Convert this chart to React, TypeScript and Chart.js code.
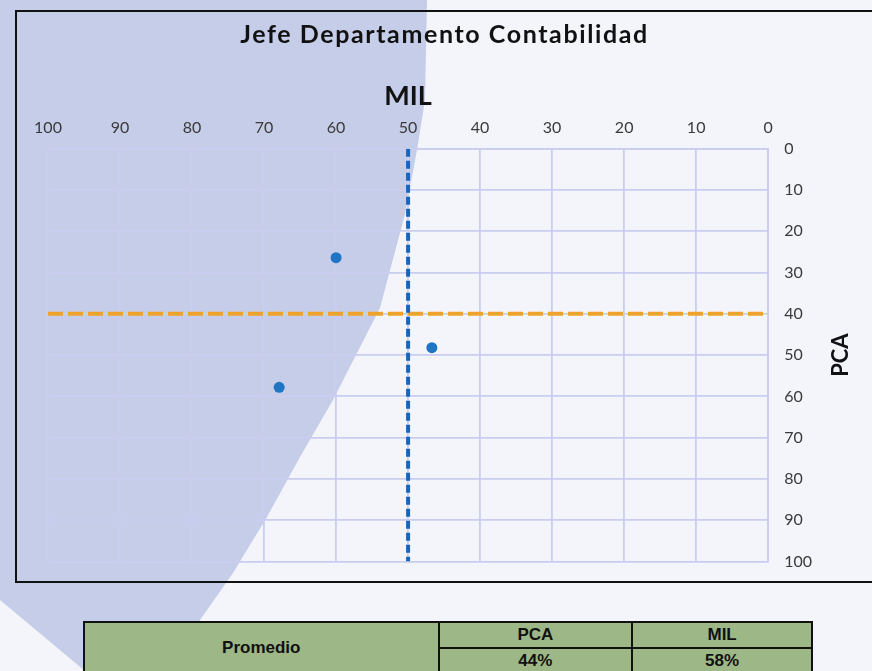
import React, { useEffect, useRef } from 'react';
import { Chart, registerables } from 'chart.js';

Chart.register(...registerables);

const CHART_TITLE = 'Jefe Departamento Contabilidad';
const X_TITLE = 'MIL';
const Y_TITLE = 'PCA';
const MIL_VALUES = [60, 46.7, 67.9];
const PCA_VALUES = [26.4, 48.2, 57.8];
const MIL_REF_X = [50, 50];
const MIL_REF_Y = [0, 100];
const PCA_REF_X = [100, 0];
const PCA_REF_Y = [40, 40];
const AXIS_MIN = 0;
const AXIS_MAX = 100;
const AXIS_STEP = 10;
const TABLE_LABEL = 'Promedio';
const TABLE_HEADERS = ['PCA', 'MIL'];
const TABLE_VALUES = ['44%', '58%'];

const FONT = "Lato, 'Open Sans', sans-serif";
const Y_TITLE_SIZE = 22;
const Y_TITLE_PAD_TOP = 17.6;
const Y_TITLE_PAD_BOTTOM = 0;

const SWOOSH =
  'polygon(0px 0px, 427px 0px, 425px 100px, 417px 150px, 405px 214px, 380px 308px, 333px 400px, 300px 457px, 267px 517px, 233px 573px, 200px 620px, 170px 671px, 85px 671px, 0px 600px)';

const customText = {
  id: 'customText',
  afterDraw(chart: any) {
    const ctx = chart.ctx;
    ctx.save();
    ctx.font = `bold 25px ${FONT}`;
    try {
      (ctx as any).letterSpacing = '1.6px';
    } catch (e) {}
    ctx.fillStyle = '#111111';
    ctx.textAlign = 'center';
    ctx.textBaseline = 'alphabetic';
    ctx.fillText(CHART_TITLE, chart.width / 2, 31);
    ctx.restore();

    const s = chart.scales.y;
    const cx = s.right - Y_TITLE_PAD_TOP - (Y_TITLE_SIZE * 1.2) / 2;
    const cy = (chart.chartArea.top + chart.chartArea.bottom) / 2;
    ctx.save();
    ctx.translate(cx, cy);
    ctx.rotate(-Math.PI / 2);
    ctx.font = `bold ${Y_TITLE_SIZE}px ${FONT}`;
    ctx.fillStyle = '#111111';
    ctx.textAlign = 'center';
    ctx.textBaseline = 'middle';
    ctx.fillText(Y_TITLE, 0, 0);
    ctx.restore();
  },
};

export default function App() {
  const canvasRef = useRef<HTMLCanvasElement | null>(null);

  useEffect(() => {
    if (!canvasRef.current) return;
    const gridColor = '#cacdf0';
    const chart = new Chart(canvasRef.current, {
      type: 'scatter',
      data: {
        datasets: [
          {
            type: 'scatter',
            label: 'Evaluaciones',
            data: MIL_VALUES.map((x, i) => ({ x, y: PCA_VALUES[i] })),
            backgroundColor: '#1f74c4',
            borderWidth: 0,
            pointRadius: 5.5,
            order: 0,
          } as any,
          {
            type: 'line',
            label: 'MIL ref',
            data: MIL_REF_X.map((x, i) => ({ x, y: MIL_REF_Y[i] })),
            borderColor: '#1766bd',
            borderWidth: 4,
            borderDash: [8, 4],
            pointRadius: 0,
            fill: false,
            order: 1,
          } as any,
          {
            type: 'line',
            label: 'PCA ref',
            data: PCA_REF_X.map((x, i) => ({ x, y: PCA_REF_Y[i] })),
            borderColor: '#f0a22c',
            borderWidth: 4,
            borderDash: [15, 5],
            pointRadius: 0,
            fill: false,
            order: 2,
          } as any,
        ],
      },
      options: {
        animation: false,
        responsive: true,
        maintainAspectRatio: false,
        layout: { padding: { left: 31, right: 0, top: 35.8, bottom: 10 } },
        plugins: {
          legend: { display: false },
          tooltip: { enabled: false },
          title: { display: false },
        },
        scales: {
          x: {
            type: 'linear',
            position: 'top',
            reverse: true,
            min: AXIS_MIN,
            max: AXIS_MAX,
            ticks: {
              stepSize: AXIS_STEP,
              color: '#3a3a3a',
              font: { family: FONT, size: 16 },
              padding: 11,
              maxRotation: 0,
            },
            grid: { color: gridColor, lineWidth: 1.8, drawTicks: false },
            border: { display: true, color: gridColor, width: 1.8 },
            title: {
              display: true,
              text: X_TITLE,
              color: '#111111',
              font: { family: FONT, size: 27, weight: 'bold', lineHeight: 0.8 },
              padding: { top: 37.8, bottom: 0.4 },
            },
          },
          y: {
            type: 'linear',
            position: 'right',
            reverse: true,
            min: AXIS_MIN,
            max: AXIS_MAX,
            ticks: {
              stepSize: AXIS_STEP,
              color: '#3a3a3a',
              font: { family: FONT, size: 16 },
              padding: 16,
            },
            grid: { color: gridColor, lineWidth: 1.8, drawTicks: false },
            border: { display: true, color: gridColor, width: 1.8 },
            title: {
              display: true,
              text: Y_TITLE,
              color: 'rgba(0,0,0,0)',
              font: { family: FONT, size: Y_TITLE_SIZE, weight: 'bold' },
              padding: { top: Y_TITLE_PAD_TOP, bottom: Y_TITLE_PAD_BOTTOM },
            },
          },
        },
      } as any,
      plugins: [customText],
    });
    return () => chart.destroy();
  }, []);

  const cellBase: React.CSSProperties = {
    border: '2px solid #111',
    background: '#9db886',
    textAlign: 'center',
    verticalAlign: 'middle',
    padding: 0,
    height: 24,
    color: '#111',
  };

  return (
    <div
      style={{
        position: 'fixed',
        left: 0,
        top: 0,
        width: 872,
        height: 671,
        overflow: 'hidden',
        background: '#f4f5fb',
      }}
    >
      <div
        style={{
          position: 'absolute',
          left: 0,
          top: 0,
          width: 872,
          height: 671,
          background: '#c6cde9',
          clipPath: SWOOSH,
        }}
      />
      <div
        style={{
          position: 'absolute',
          left: 15,
          top: 10,
          width: 870,
          height: 573,
          border: '2px solid #111',
          boxSizing: 'border-box',
        }}
      />
      <div style={{ position: 'absolute', left: 17, top: 12, width: 855, height: 575 }}>
        <canvas ref={canvasRef} />
      </div>
      <table
        style={{
          position: 'absolute',
          left: 83,
          top: 621,
          width: 730,
          borderCollapse: 'collapse',
          fontFamily: "'Liberation Sans Narrow', 'Liberation Sans', Arial, sans-serif",
          fontWeight: 'bold',
          fontSize: 17,
        }}
      >
        <tbody>
          <tr>
            <td rowSpan={2} style={{ ...cellBase, width: 353 }}>
              {TABLE_LABEL}
            </td>
            {TABLE_HEADERS.map((h) => (
              <td key={h} style={{ ...cellBase, width: h === TABLE_HEADERS[0] ? 192 : 178 }}>
                {h}
              </td>
            ))}
          </tr>
          <tr>
            {TABLE_VALUES.map((v) => (
              <td key={v} style={cellBase}>
                {v}
              </td>
            ))}
          </tr>
        </tbody>
      </table>
    </div>
  );
}
